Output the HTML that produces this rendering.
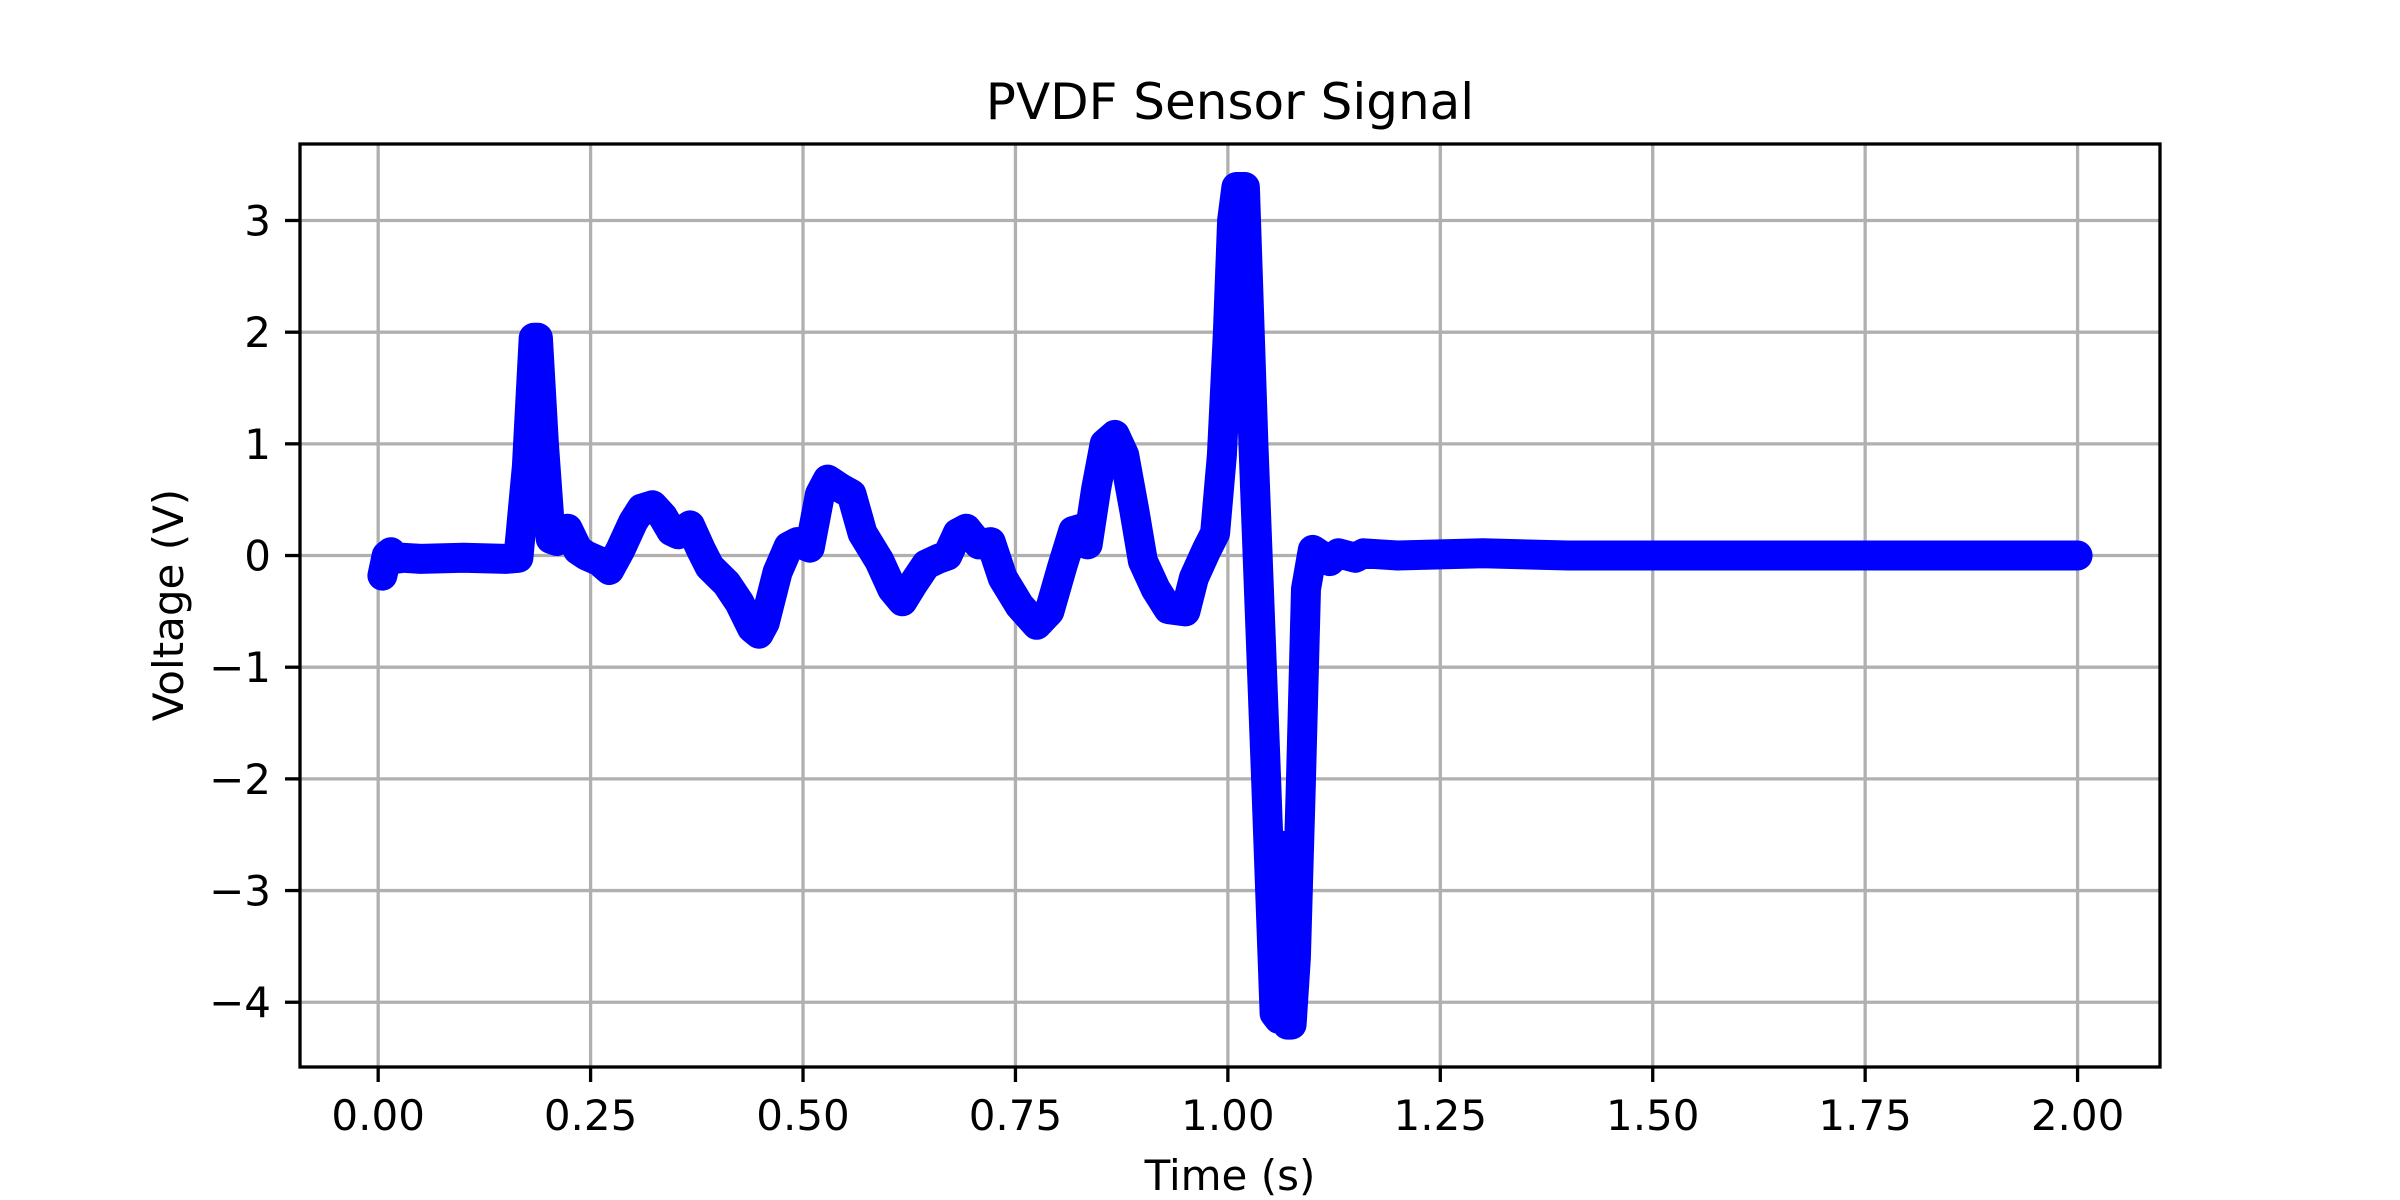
<!DOCTYPE html>
<html><head><meta charset="utf-8">
<style>
html,body{margin:0;padding:0;background:#fff;}
svg{display:block;font-family:"DejaVu Sans","Liberation Sans",sans-serif;}
</style></head>
<body>
<svg id="chart" width="2400" height="1200" viewBox="0 0 2400 1200" xmlns="http://www.w3.org/2000/svg">
<rect width="2400" height="1200" fill="#fff"/>
<g id="grid"></g>
<g id="series"></g>
<rect x="300" y="144" width="1860" height="923" fill="none" stroke="#000" stroke-width="3.3"/>
<g id="xticks"></g>
<g id="yticks"></g>
<text x="1230" y="119" font-size="50" text-anchor="middle">PVDF Sensor Signal</text>
<text x="1230" y="1190" font-size="42" text-anchor="middle">Time (s)</text>
<text x="0" y="0" font-size="42" text-anchor="middle" transform="translate(183,605) rotate(-90)">Voltage (V)</text>
</svg>
<script>
const times = [0.005,0.01,0.015,0.02,0.03,0.05,0.1,0.15,0.165,0.175,0.183,0.188,0.195,0.203,0.21,0.223,0.235,0.245,0.26,0.272,0.285,0.3,0.31,0.323,0.335,0.345,0.353,0.367,0.38,0.39,0.41,0.425,0.44,0.448,0.455,0.47,0.483,0.493,0.508,0.52,0.529,0.545,0.557,0.57,0.59,0.605,0.617,0.63,0.645,0.659,0.67,0.682,0.692,0.707,0.721,0.735,0.755,0.775,0.79,0.805,0.818,0.827,0.835,0.845,0.855,0.867,0.878,0.89,0.9,0.915,0.93,0.95,0.96,0.975,0.985,0.993,1.0,1.005,1.01,1.02,1.03,1.045,1.055,1.06,1.065,1.07,1.075,1.08,1.086,1.092,1.1,1.11,1.12,1.13,1.15,1.16,1.2,1.3,1.4,1.6,1.8,2.0];
const volts = [-0.18,0.0,0.03,-0.03,-0.02,-0.03,-0.02,-0.03,-0.02,0.8,1.95,1.95,1.0,0.15,0.13,0.24,0.05,0.0,-0.05,-0.13,0.05,0.3,0.42,0.45,0.35,0.22,0.19,0.27,0.05,-0.1,-0.25,-0.42,-0.65,-0.7,-0.6,-0.15,0.08,0.12,0.07,0.55,0.68,0.6,0.55,0.2,-0.05,-0.3,-0.41,-0.25,-0.08,-0.03,0.0,0.2,0.24,0.1,0.12,-0.2,-0.45,-0.62,-0.5,-0.1,0.22,0.24,0.1,0.6,1.0,1.08,0.9,0.4,-0.05,-0.3,-0.48,-0.5,-0.2,0.05,0.2,0.9,2.0,3.0,3.3,3.3,1.0,-2.0,-4.1,-4.15,-2.6,-4.2,-4.2,-3.6,-2.0,-0.3,0.05,0.0,-0.05,0.02,-0.02,0.02,0.0,0.02,0.0,0.0,0.0,0.0];
const xTickValues = [0,0.25,0.5,0.75,1.0,1.25,1.5,1.75,2.0];
const xTickLabels = ["0.00","0.25","0.50","0.75","1.00","1.25","1.50","1.75","2.00"];
const yTickValues = [-4,-3,-2,-1,0,1,2,3];
const yTickLabels = ["\u22124","\u22123","\u22122","\u22121","0","1","2","3"];

const L=300,R=2160,T=144,B=1067;
const xMin=-0.092,xMax=2.097,yMin=-4.58,yMax=3.685;
const xs=v=>L+(v-xMin)/(xMax-xMin)*(R-L);
const ys=v=>B-(v-yMin)/(yMax-yMin)*(B-T);
const NS="http://www.w3.org/2000/svg";
function mk(tag,attrs,parent){const e=document.createElementNS(NS,tag);for(const k in attrs)e.setAttribute(k,attrs[k]);parent.appendChild(e);return e;}
const grid=document.getElementById('grid'),xt=document.getElementById('xticks'),yt=document.getElementById('yticks'),ser=document.getElementById('series');
xTickValues.forEach((v,i)=>{
  const x=xs(v);
  const g=mk('line',{x1:x,x2:x,y1:T,y2:B,stroke:'#b0b0b0','stroke-width':3.3},grid);
  
  
  const t=mk('line',{x1:x,x2:x,y1:B,y2:B+15,stroke:'#000','stroke-width':3.3},xt);
  
  
  const l=mk('text',{x:x,y:1130,'font-size':42,'text-anchor':'middle'},xt);
  l.textContent=xTickLabels[i];
  
  
});
yTickValues.forEach((v,i)=>{
  const y=ys(v);
  const g=mk('line',{x1:L,x2:R,y1:y,y2:y,stroke:'#b0b0b0','stroke-width':3.3},grid);
  
  
  const t=mk('line',{x1:L-15,x2:L,y1:y,y2:y,stroke:'#000','stroke-width':3.3},yt);
  
  
  const l=mk('text',{x:L-29,y:y+15,'font-size':42,'text-anchor':'end'},yt);
  l.textContent=yTickLabels[i];
  
  
});
const d=times.map((t,i)=>(i?'L':'M')+xs(t).toFixed(1)+','+ys(volts[i]).toFixed(1)).join(' ');
const p=mk('path',{d:d,fill:'none',stroke:'#0000ff','stroke-width':30,'stroke-linejoin':'round','stroke-linecap':'round'},ser);


</script>
</body></html>
